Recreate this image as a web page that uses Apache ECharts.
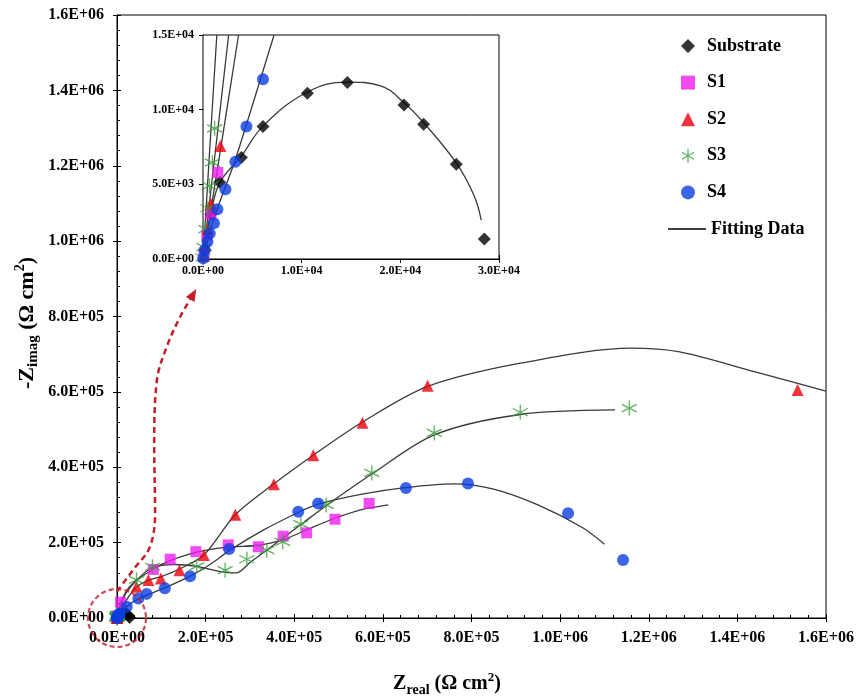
<!DOCTYPE html>
<html>
<head>
<meta charset="utf-8">
<title>Nyquist plot</title>
<script src="https://cdn.jsdelivr.net/npm/echarts@6/dist/echarts.min.js"></script>
<style>
  html, body { margin: 0; padding: 0; background: #fff; }
  #chart { width: 858px; height: 699px; }
</style>
</head>
<body>
<div id="chart"></div>
<script>
// measured points, [Zreal, -Zimag] in ohm cm2
const substrate = [[200, 600], [800, 3000], [1690, 5140], [3890, 6790], [6080, 8870], [10580, 11100],
  [14630, 11820], [20370, 10320], [22360, 9030], [25670, 6350], [28510, 1340]]
const s1 = [[100, 300], [400, 1600], [800, 3000], [1500, 5800], [8000, 42000], [82000, 129000],
  [120000, 156000], [178000, 176000], [251000, 194000], [319000, 189000], [375000, 217000],
  [428000, 226000], [492000, 262000], [569000, 304000]]
const s2 = [[50, 200], [200, 900], [450, 2000], [800, 3700], [1760, 7570], [44000, 83000],
  [71000, 101000], [99000, 105000], [141000, 127000], [196000, 167000], [267000, 274000],
  [354000, 355000], [443000, 432000], [554000, 518000], [701000, 616000], [1536000, 605000]]
const s3 = [[0, 100], [100, 800], [300, 2000], [500, 3400], [650, 4900], [950, 6450], [1180, 8750],
  [44000, 101000], [80000, 136000], [180000, 137000], [244000, 127000], [293000, 156000],
  [338000, 180000], [374000, 202000], [415000, 249000], [472000, 300000], [575000, 385000],
  [716000, 491000], [910000, 546000], [1156000, 557000]]
const s4 = [[20, 50], [170, 600], [450, 1160], [680, 1720], [1110, 2390], [1460, 3330], [2270, 4670],
  [3280, 6520], [4400, 8870], [6080, 12040], [22000, 30000], [48000, 52000], [67000, 64000],
  [108000, 79000], [165000, 111000], [253000, 183000], [409000, 282000], [454000, 304000],
  [652000, 345000], [792000, 357000], [1018000, 278000], [1142000, 154000]]

// fitted curves
const fitSubstrate = [[0, 0], [800, 3000], [1690, 5100], [3890, 6900], [6080, 8900], [10500, 11150],
  [14600, 11850], [18000, 11600], [20400, 10450], [22400, 9100], [25700, 6400], [27500, 4200], [28200, 2600]]
const fitS1 = [[0, 0], [10000, 45000], [30000, 85000], [82000, 130000], [120000, 152000],
  [178000, 174000], [250000, 188000], [320000, 193000], [380000, 210000], [430000, 235000],
  [490000, 264000], [550000, 287000], [612000, 300000]]
const fitS2 = [[0, 0], [20000, 45000], [44000, 82000], [70000, 100000], [100000, 110000],
  [141000, 130000], [196000, 167000], [267000, 274000], [354000, 356000], [443000, 432000],
  [554000, 520000], [700000, 614000], [910000, 676000], [1160000, 716000], [1270000, 706000],
  [1440000, 653000], [1600000, 602000]]
const fitS3 = [[0, 0], [15000, 55000], [44000, 100000], [80000, 134000], [130000, 142000],
  [180000, 137000], [230000, 124000], [270000, 120000], [300000, 147000], [340000, 182000],
  [415000, 248000], [472000, 298000], [575000, 382000], [716000, 486000], [910000, 540000], [1124000, 552000]]
const fitS4 = [[0, 0], [22000, 30000], [50000, 52000], [108000, 80000], [165000, 111000],
  [210000, 142000], [255000, 180000], [330000, 233000], [409000, 280000], [454000, 302000],
  [550000, 328000], [650000, 346000], [760000, 356000], [850000, 342000], [950000, 300000],
  [1050000, 240000], [1100000, 196000]]
// near-origin part of the fits, shown in the inset
const fitS1Inset = [[0, 0], [1700, 7000], [3600, 15000]]
const fitS2Inset = [[0, 0], [1250, 7200], [2600, 15000]]
const fitS3Inset = [[0, 0], [650, 7000], [1400, 15000]]
const fitS4Inset = [[0, 0], [1200, 2900], [3300, 6700], [7200, 15000]]

// dashed pointer from the zoomed region to the inset
const pointerPath = [[0, 70000], [36000, 127000], [74000, 188000], [86000, 279000], [84000, 454000],
  [90000, 631000], [112000, 719000], [142000, 798000], [172000, 859000]]

const mainXTicks = [0, 1600000, 200000]
const mainYTicks = [0, 1600000, 200000]
const insetXTicks = [0, 30000, 10000]
const insetYTicks = [0, 15000, 5000]

const FONT = 'Liberation Serif'
const FIT_COLOR = '#3a3a3a'
const asterisk = 'path://M5,0L5,10M0.7,2.5L9.3,7.5M0.7,7.5L9.3,2.5'

const samples = [
    { name: 'Substrate', data: substrate, symbol: 'diamond', size: 13, color: '#000000' },
    { name: 'S1', data: s1, symbol: 'rect', size: 11, color: '#f01ef0' },
    { name: 'S2', data: s2, symbol: 'triangle', size: 12, color: '#e8000b' },
    { name: 'S3', data: s3, symbol: asterisk, size: 15, color: '#3a9c3a', stroke: true },
    { name: 'S4', data: s4, symbol: 'circle', size: 12, color: '#0b3de0' }
]

const sci = (v) => {
    if (v === 0) return '0.0E+00'
    const e = Math.floor(Math.log10(Math.abs(v)) + 1e-9)
    const m = v / Math.pow(10, e)
    return m.toFixed(1) + 'E+' + String(e).padStart(2, '0')
}

const labelAxis = (dim, gridIndex, ticks, fontSize, margin) => ({
    type: 'value',
    gridIndex,
    position: dim === 'x' ? 'bottom' : 'left',
    min: ticks[0], max: ticks[1], interval: ticks[2],
    axisLine: { show: true, lineStyle: { color: '#000', width: 1 } },
    axisTick: { show: true, inside: false, length: 4, lineStyle: { color: '#000' } },
    axisLabel: { fontFamily: FONT, fontWeight: 'bold', color: '#000', fontSize, margin, formatter: sci },
    splitLine: { show: false }
})

// second axis on the same side, only for the inward ticks (so major ticks cross the axis)
const tickAxis = (dim, gridIndex, ticks) => ({
    type: 'value',
    gridIndex,
    position: dim === 'x' ? 'bottom' : 'left',
    min: ticks[0], max: ticks[1], interval: ticks[2],
    axisLine: { show: false },
    axisTick: { show: true, inside: true, length: 4, lineStyle: { color: '#000' } },
    minorTick: { show: true, splitNumber: 5, length: 3, lineStyle: { color: '#000' } },
    axisLabel: { show: false },
    splitLine: { show: false }
})

const fitLine = (data, axisIndex, smooth) => ({
    name: 'Fitting Data',
    type: 'line',
    xAxisIndex: axisIndex, yAxisIndex: axisIndex,
    data, smooth,
    symbol: 'none',
    lineStyle: { color: FIT_COLOR, width: 1.3 },
    itemStyle: { color: FIT_COLOR },
    z: 2
})

const scatter = (s, axisIndex) => ({
    name: s.name,
    type: 'scatter',
    xAxisIndex: axisIndex, yAxisIndex: axisIndex,
    data: s.data,
    symbol: s.symbol,
    symbolSize: s.size,
    itemStyle: s.stroke
        ? { color: 'rgba(0,0,0,0)', borderColor: s.color, borderWidth: 1.3 }
        : { color: s.color },
    z: 3
})

const series = [
    fitLine(fitSubstrate, 0, 0.4),
    fitLine(fitS1, 0, 0.3),
    fitLine(fitS2, 0, 0.3),
    fitLine(fitS3, 0, 0.3),
    fitLine(fitS4, 0, 0.3),
    ...samples.map(s => scatter(s, 0)),
    {
        name: 'zoomCircle',
        type: 'scatter',
        data: [[0, 0]],
        symbol: 'circle',
        symbolSize: 58,
        clip: false,
        silent: true,
        itemStyle: { color: 'rgba(0,0,0,0)', borderColor: '#c41e28', borderWidth: 2.2, borderType: [5, 3] },
        z: 5
    },
    {
        name: 'pointer',
        type: 'line',
        data: pointerPath.map((p, i) => i === pointerPath.length - 1
            ? { value: p, symbol: 'triangle', symbolSize: [10, 12], symbolRotate: -30 }
            : { value: p, symbolSize: 0 }),
        smooth: 0.35,
        clip: false,
        silent: true,
        symbol: 'circle',
        showSymbol: true,
        lineStyle: { color: '#c41e28', width: 2.5, type: [6, 4] },
        itemStyle: { color: '#c41e28' },
        z: 5
    },
    fitLine(fitSubstrate, 2, 0.4),
    fitLine(fitS1Inset, 2, 0.2),
    fitLine(fitS2Inset, 2, 0.2),
    fitLine(fitS3Inset, 2, 0.2),
    fitLine(fitS4Inset, 2, 0.2),
    ...samples.map(s => scatter(s, 2))
]

const legendText = { fontFamily: FONT, fontWeight: 'bold', fontSize: 18, color: '#000', lineHeight: 20 }

const chart = echarts.init(document.getElementById('chart'))
chart.setOption({
    animation: false,
    backgroundColor: '#fff',
    grid: [
        { left: 117, top: 15, width: 709, height: 603, show: true, borderColor: '#000', borderWidth: 1 },
        { left: 203, top: 35, width: 296, height: 224, show: true, backgroundColor: '#fff', borderColor: '#000', borderWidth: 1, z: 1 }
    ],
    xAxis: [
        labelAxis('x', 0, mainXTicks, 16, 12),
        tickAxis('x', 0, mainXTicks),
        labelAxis('x', 1, insetXTicks, 12, 6),
        tickAxis('x', 1, insetXTicks)
    ],
    yAxis: [
        labelAxis('y', 0, mainYTicks, 16, 13),
        tickAxis('y', 0, mainYTicks),
        labelAxis('y', 1, insetYTicks, 12, 9),
        tickAxis('y', 1, insetYTicks)
    ],
    legend: [
        {
            orient: 'vertical',
            left: 676, top: 31,
            itemWidth: 14, itemHeight: 14, itemGap: 16.6,
            textStyle: Object.assign({ padding: [0, 0, 0, 7] }, legendText),
            data: ['Substrate', 'S1', 'S2', { name: 'S3', itemStyle: { borderWidth: 1.3 } }, 'S4']
        },
        {
            orient: 'vertical',
            left: 663, top: 214,
            itemWidth: 38, itemHeight: 1.4,
            textStyle: legendText,
            data: [{ name: 'Fitting Data', icon: 'rect', itemStyle: { color: '#000' } }]
        }
    ],
    graphic: [
        {
            type: 'text',
            x: 27, y: 323,
            rotation: Math.PI / 2,
            style: {
                text: '{a|-Z}{b|imag}{a| (Ω cm}{c|2}{a|)}',
                align: 'center', verticalAlign: 'middle',
                rich: {
                    a: { fontFamily: FONT, fontWeight: 'bold', fontSize: 22, lineHeight: 28, fill: '#000' },
                    b: { fontFamily: FONT, fontWeight: 'bold', fontSize: 15, lineHeight: 28, verticalAlign: 'bottom', fill: '#000' },
                    c: { fontFamily: FONT, fontWeight: 'bold', fontSize: 14, lineHeight: 28, verticalAlign: 'top', fill: '#000' }
                }
            }
        },
        {
            type: 'text',
            x: 447, y: 684,
            style: {
                text: '{a|Z}{b|real}{a| (Ω cm}{c|2}{a|)}',
                align: 'center', verticalAlign: 'middle',
                rich: {
                    a: { fontFamily: FONT, fontWeight: 'bold', fontSize: 20, lineHeight: 26, fill: '#000' },
                    b: { fontFamily: FONT, fontWeight: 'bold', fontSize: 14, lineHeight: 26, verticalAlign: 'bottom', fill: '#000' },
                    c: { fontFamily: FONT, fontWeight: 'bold', fontSize: 13, lineHeight: 26, verticalAlign: 'top', fill: '#000' }
                }
            }
        }
    ],
    series
})
</script>
</body>
</html>
